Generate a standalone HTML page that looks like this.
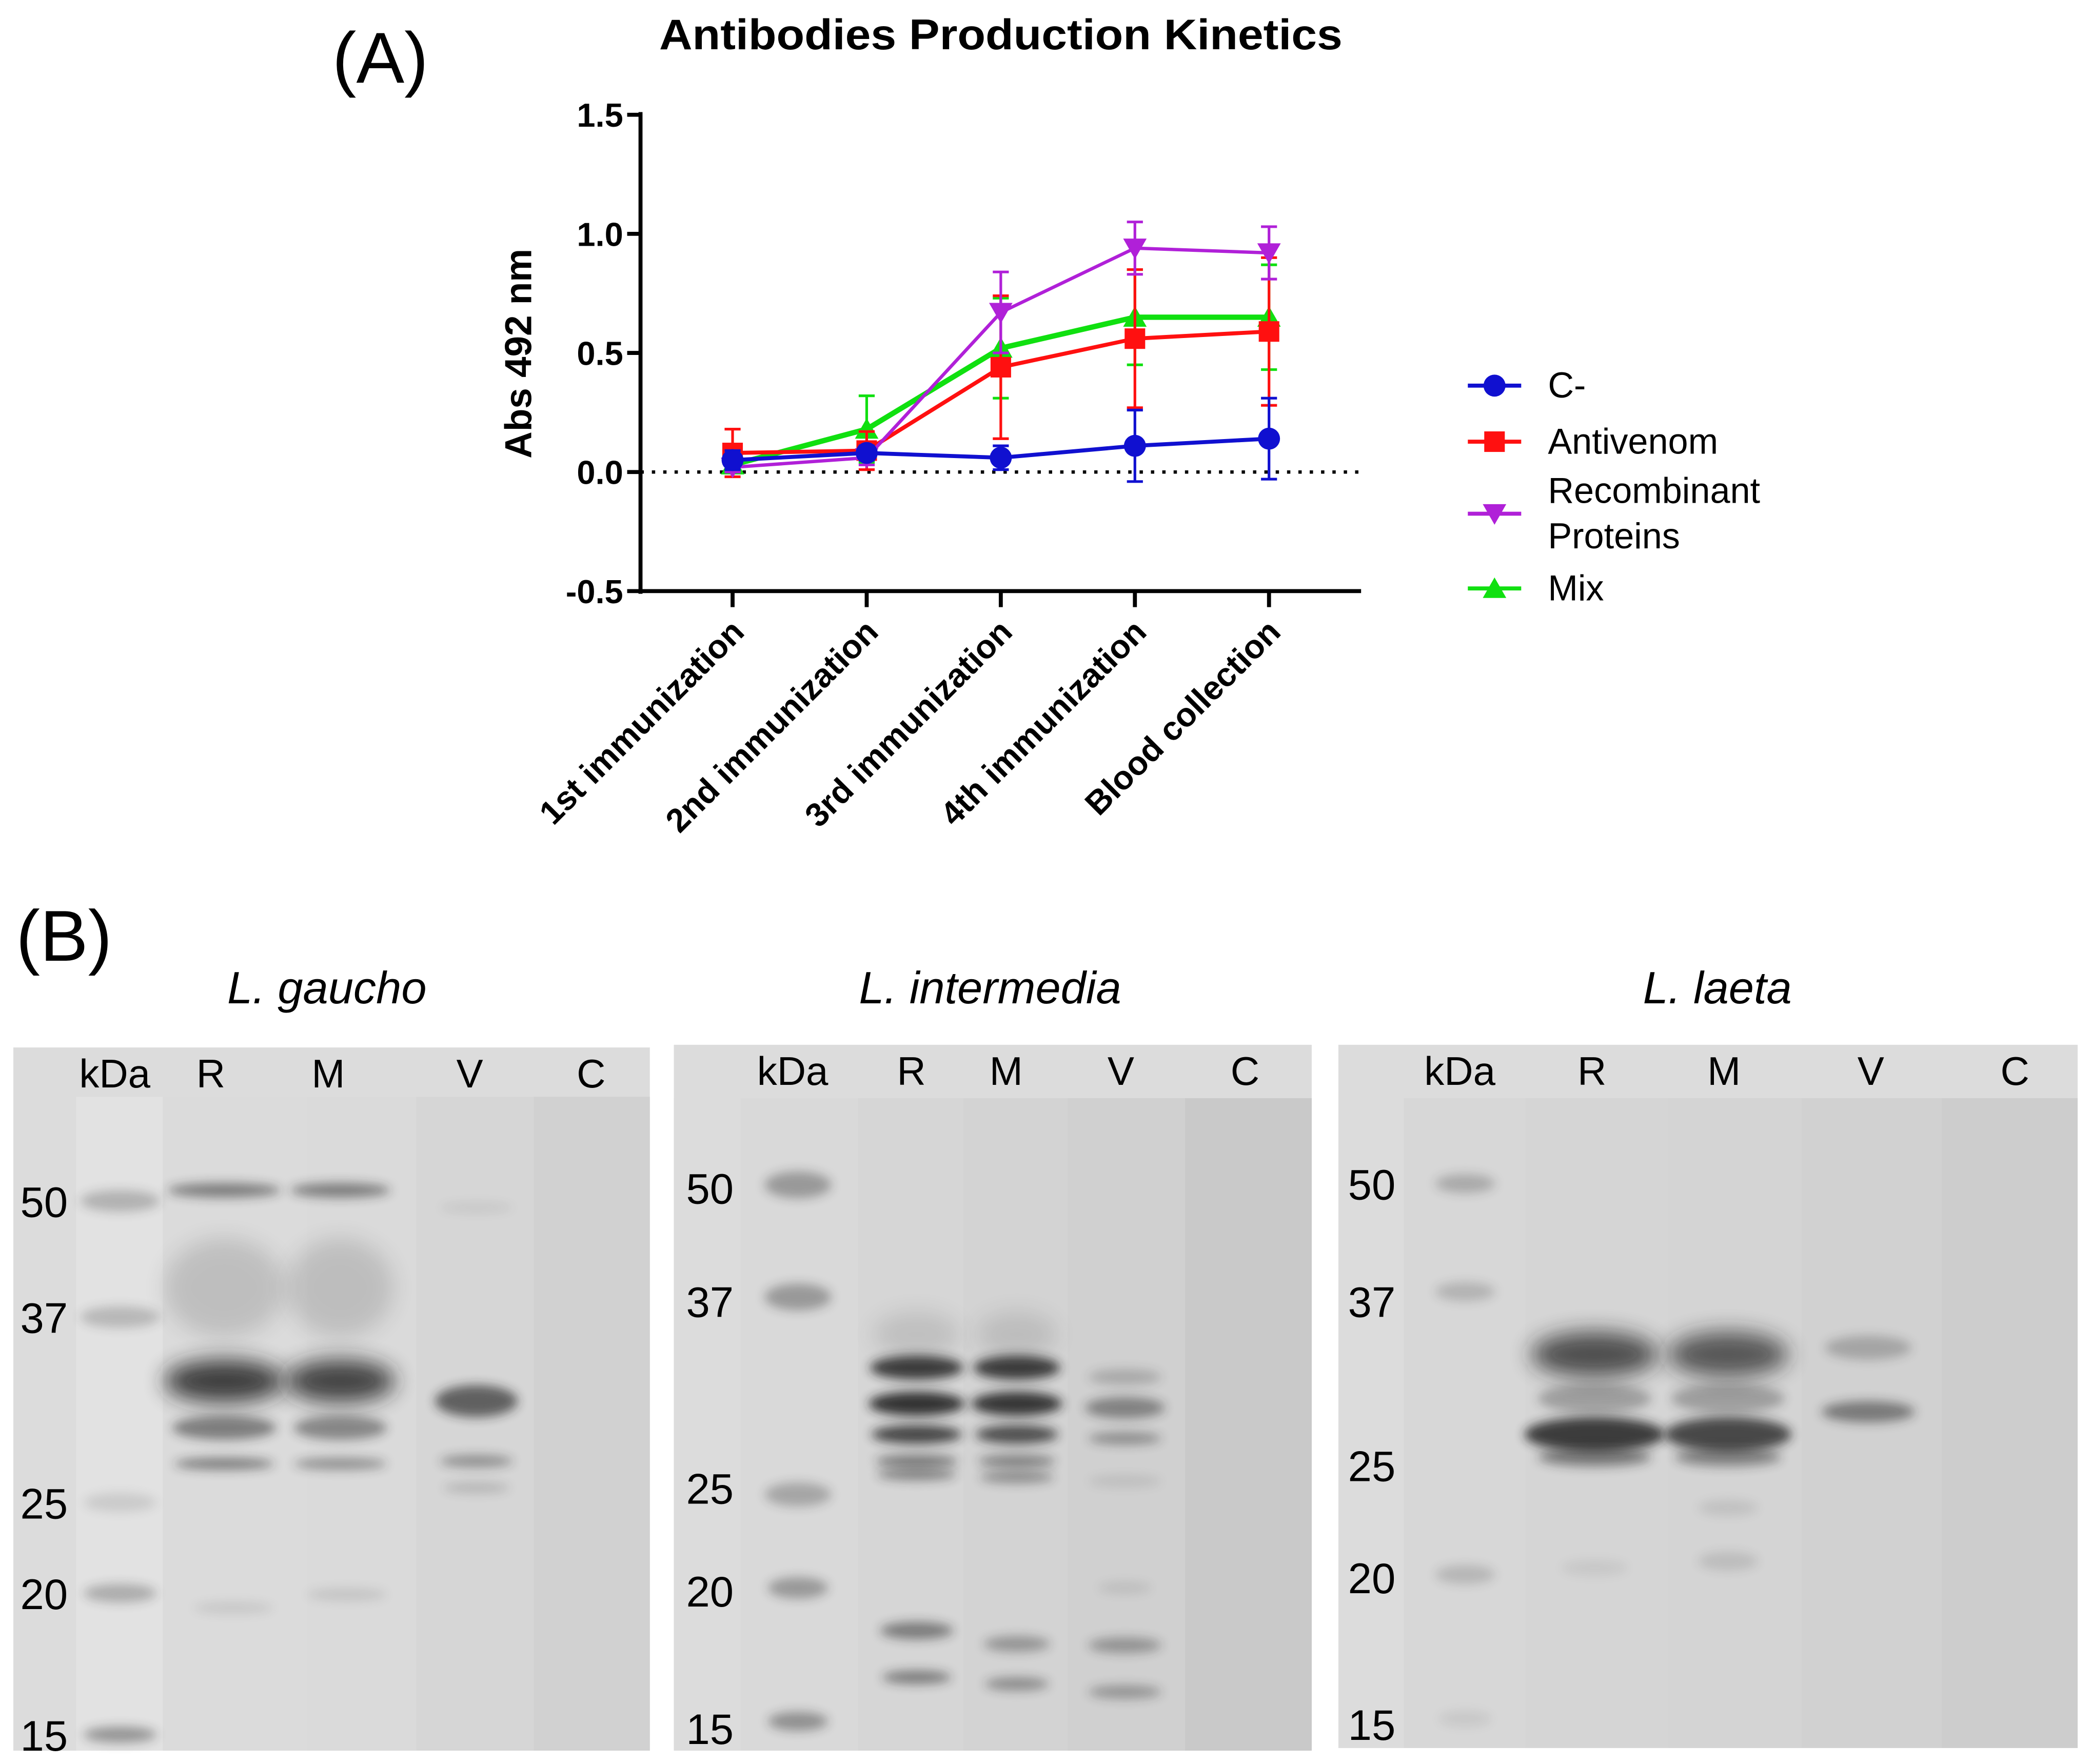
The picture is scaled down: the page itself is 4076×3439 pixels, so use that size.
<!DOCTYPE html>
<html><head><meta charset="utf-8"><style>
html,body{margin:0;padding:0;background:#fff;}
svg{display:block;font-family:"Liberation Sans",Arial,sans-serif;}
</style></head><body>
<svg id="fig" width="4076" height="3439" viewBox="0 0 1567 1322" preserveAspectRatio="none" xmlns="http://www.w3.org/2000/svg">
<defs>
<filter id="blur" x="-50%" y="-200%" width="200%" height="500%"><feGaussianBlur stdDeviation="4"/></filter>
<filter id="blur2" x="-50%" y="-200%" width="200%" height="500%"><feGaussianBlur stdDeviation="8"/></filter>
</defs>
<rect width="1567" height="1322" fill="#fff"/>
<text x="285" y="62" font-size="54" text-anchor="middle">(A)</text>
<text x="750" y="37" font-size="32" font-weight="bold" text-anchor="middle" textLength="512" lengthAdjust="spacingAndGlyphs">Antibodies Production Kinetics</text>
<g id="chart"></g>
<text x="48" y="720" font-size="54" text-anchor="middle">(B)</text>
<g id="blots"></g>
</svg>
<script>
const categories=["1st immunization","2nd immunization","3rd immunization","4th immunization","Blood collection"];
const yTicks=[-0.5,0.0,0.5,1.0,1.5];
const yTickLabels=["-0.5","0.0","0.5","1.0","1.5"];
const seriesNames=["C-","Antivenom","Recombinant Proteins","Mix"];
const seriesColors=["#1010d0","#ff1010","#b020d8","#10e010"];
const cNeg=[0.05,0.08,0.06,0.11,0.14];
const cNegErr=[0.04,0.03,0.05,0.15,0.17];
const antivenom=[0.08,0.09,0.44,0.56,0.59];
const antivenomErr=[0.1,0.08,0.3,0.29,0.31];
const recomb=[0.02,0.06,0.67,0.94,0.92];
const recombErr=[0.02,0.03,0.17,0.11,0.11];
const mix=[0.03,0.18,0.52,0.65,0.65];
const mixErr=[0.03,0.14,0.21,0.2,0.22];

const NS="http://www.w3.org/2000/svg";
function mk(tag,attrs,parent){const e=document.createElementNS(NS,tag);for(const k in attrs)e.setAttribute(k,attrs[k]);parent.appendChild(e);return e;}
const chart=document.getElementById('chart');
const x0=480,x1=1020,yTop=86,yBot=443;
function yS(v){return yBot-(v-(-0.5))/2.0*(yBot-yTop);}
function xS(i){return 549+i*100.5;}

let ax=mk('line',{x1:x0,y1:yTop-2,x2:x0,y2:yBot+2,stroke:'#000','stroke-width':3},chart);


let axx=mk('line',{x1:x0-2,y1:yBot,x2:x1,y2:yBot,stroke:'#000','stroke-width':3},chart);


yTicks.forEach((v,i)=>{
  const y=yS(v);
  mk('line',{x1:x0-10,y1:y,x2:x0,y2:y,stroke:'#000','stroke-width':3},chart);
  const t=mk('text',{x:x0-13,y:y+9,'font-size':25,'font-weight':'bold','text-anchor':'end'},chart);
  t.textContent=yTickLabels[i];
  
  
});
const zl=mk('line',{x1:x0,y1:yS(0),x2:x1,y2:yS(0),stroke:'#000','stroke-width':2.5,'stroke-dasharray':'2.5,6'},chart);


const yt=mk('text',{x:0,y:0,'font-size':28,'font-weight':'bold','text-anchor':'middle',transform:'translate(398,265) rotate(-90)'},chart);
yt.textContent='Abs 492 nm';


categories.forEach((c,i)=>{
  const x=xS(i);
  mk('line',{x1:x,y1:yBot,x2:x,y2:yBot+12,stroke:'#000','stroke-width':3},chart);
  const t=mk('text',{x:0,y:0,'font-size':25,'font-weight':'bold','text-anchor':'end',transform:`translate(${x+10},${yBot+32}) rotate(-45)`},chart);
  t.textContent=c;
  
  
});
const series=[[cNeg,cNegErr],[antivenom,antivenomErr],[recomb,recombErr],[mix,mixErr]];
const widths=[3,3,2.5,4];
function marker(k,x,y,g,s){
  const col=seriesColors[k];let m;
  if(k===0)m=mk('circle',{cx:x,cy:y,r:s*0.75,fill:col},g);
  else if(k===1)m=mk('rect',{x:x-s*0.7,y:y-s*0.7,width:s*1.4,height:s*1.4,fill:col},g);
  else if(k===2)m=mk('polygon',{points:`${x-s*0.8},${y-s*0.65} ${x+s*0.8},${y-s*0.65} ${x},${y+s*0.75}`,fill:col},g);
  else m=mk('polygon',{points:`${x-s*0.8},${y+s*0.65} ${x+s*0.8},${y+s*0.65} ${x},${y-s*0.75}`,fill:col},g);
  return m;
}
[3,1,2,0].forEach(k=>{
  const [vals,errs]=series[k];const col=seriesColors[k];
  const g=mk('g',{},chart);
  
  
  vals.forEach((v,i)=>{
    const x=xS(i),ya=yS(v+errs[i]),yb=yS(v-errs[i]);
    const eb=mk('path',{d:`M${x},${ya}V${yb}M${x-6},${ya}H${x+6}M${x-6},${yb}H${x+6}`,stroke:col,'stroke-width':2,fill:'none'},g);
    
    
  });
  const ln=mk('polyline',{points:vals.map((v,i)=>xS(i)+','+yS(v)).join(' '),stroke:col,'stroke-width':widths[k],fill:'none'},g);
  
  
  vals.forEach((v,i)=>{
    const m=marker(k,xS(i),yS(v),g,11);
    
    
  });
});
const legY=[289,331,385,441];
const legLabels=[["C-"],["Antivenom"],["Recombinant","Proteins"],["Mix"]];
seriesNames.forEach((n,k)=>{
  const g=mk('g',{},chart);
  
  
  mk('line',{x1:1100,y1:legY[k],x2:1140,y2:legY[k],stroke:seriesColors[k],'stroke-width':3},g);
  marker(k,1120,legY[k],g,11);
  const lines=legLabels[k];
  lines.forEach((s,j)=>{
    const t=mk('text',{x:1160,y:legY[k]+9+(j-(lines.length-1)/2)*34,'font-size':27},g);
    t.textContent=s;
  });
});

const blots=document.getElementById('blots');
const panels=[
 {name:'l-gaucho',title:'L. gaucho',tx:245,x:10,w:477,y:785,h:527,hb:37,
  lanes:[[10,57,'#dcdcdc'],[57,122,'#e2e2e2'],[122,230,'#dbdbdb'],[230,312,'#dadada'],[312,400,'#d6d6d6'],[400,487,'#d1d1d1']],
  labels:[['kDa',86],['R',158],['M',246],['V',352],['C',443]],
  mw:[['50',900],['37',987],['25',1126],['20',1194],['15',1300]],mwx:33,
  bands:[[90,900,60,12,.25],[90,987,60,12,.22],[90,1126,55,10,.12],[90,1194,55,10,.28],[90,1300,55,8,.4],
   [168,892,85,7,.5],[255,892,75,7,.5],[168,965,90,70,.15],[255,965,80,70,.15],
   [168,1035,90,28,.85],[255,1035,82,28,.82],[168,1070,78,14,.5],[255,1070,70,14,.45],[168,1097,75,5,.5],[255,1097,70,5,.4],
   [357,1050,62,20,.65],[357,1095,55,5,.4],[357,1115,50,4,.18],[357,905,55,4,.08],[175,1205,60,5,.1],[260,1195,60,5,.12]]},
 {name:'l-intermedia',title:'L. intermedia',tx:742,x:505,w:478,y:783,h:529,hb:40,
  lanes:[[505,555,'#dcdcdc'],[555,643,'#d9d9d9'],[643,722,'#d6d6d6'],[722,800,'#d3d3d3'],[800,888,'#d0d0d0'],[888,983,'#c9c9c9']],
  labels:[['kDa',594],['R',683],['M',754],['V',840],['C',933]],
  mw:[['50',890],['37',975],['25',1115],['20',1192],['15',1295]],mwx:532,
  bands:[[598,888,50,16,.35],[598,972,50,16,.35],[598,1120,50,14,.28],[598,1190,45,12,.35],[598,1290,45,10,.4],
   [687,1000,65,30,.12],[762,1000,60,30,.12],
   [687,1025,70,14,.85],[762,1025,65,14,.85],[687,1052,72,14,.9],[762,1052,68,14,.88],[687,1075,68,10,.8],[762,1075,62,10,.75],[687,1095,62,6,.5],[762,1095,58,6,.45],[687,1105,60,5,.45],[762,1107,56,5,.4],
   [843,1032,55,8,.22],[843,1055,60,12,.45],[843,1078,55,5,.4],[843,1110,55,5,.1],
   [687,1222,55,9,.5],[762,1232,50,8,.35],[843,1233,55,8,.35],[687,1257,52,6,.5],[762,1262,48,6,.4],[843,1268,55,6,.35],[843,1190,40,5,.1]]},
 {name:'l-laeta',title:'L. laeta',tx:1287,x:1003,w:554,y:783,h:527,hb:40,
  lanes:[[1003,1052,'#dcdcdc'],[1052,1143,'#d7d7d7'],[1143,1250,'#d5d5d5'],[1250,1350,'#d4d4d4'],[1350,1455,'#d1d1d1'],[1455,1557,'#cdcdcd']],
  labels:[['kDa',1094],['R',1193],['M',1292],['V',1402],['C',1510]],
  mw:[['50',887],['37',975],['25',1098],['20',1182],['15',1292]],mwx:1028,
  bands:[[1098,887,45,10,.25],[1098,968,45,10,.2],[1098,1180,45,10,.18],[1098,1288,40,8,.08],
   [1195,1015,95,30,.75],[1295,1015,90,30,.7],[1195,1048,85,18,.3],[1295,1048,85,18,.3],
   [1195,1075,105,22,.85],[1295,1075,95,22,.78],[1195,1092,85,10,.5],[1295,1092,80,10,.45],
   [1400,1010,65,14,.25],[1400,1058,70,12,.5],[1295,1130,45,8,.1],[1295,1170,45,10,.13],[1195,1175,50,8,.07]]}
];
panels.forEach(p=>{
  const g=mk('g',{},blots);
  
  
  const tt=mk('text',{x:p.tx,y:752,'font-size':34,'font-style':'italic','text-anchor':'middle'},g);
  tt.textContent=p.title;
  
  
  mk('rect',{x:p.x,y:p.y,width:p.w,height:p.h,fill:'#dcdcdc'},g);
  p.lanes.forEach(l=>{mk('rect',{x:l[0],y:p.y+p.hb,width:l[1]-l[0],height:p.h-p.hb,fill:l[2]},g);});
  p.bands.forEach(b=>{
    const e=mk('ellipse',{cx:b[0],cy:b[1],rx:b[2]/2,ry:b[3]/2+2,fill:'#202020',opacity:b[4],filter:b[3]>25?'url(#blur2)':'url(#blur)'},g);
    
    
  });
  p.labels.forEach(l=>{
    const t=mk('text',{x:l[1],y:p.y+30,'font-size':30,'text-anchor':'middle'},g);
    t.textContent=l[0];
    
    
  });
  p.mw.forEach(m=>{
    const t=mk('text',{x:p.mwx,y:m[1]+12,'font-size':32,'text-anchor':'middle'},g);
    t.textContent=m[0];
    
    
  });
});
</script>
</body></html>
